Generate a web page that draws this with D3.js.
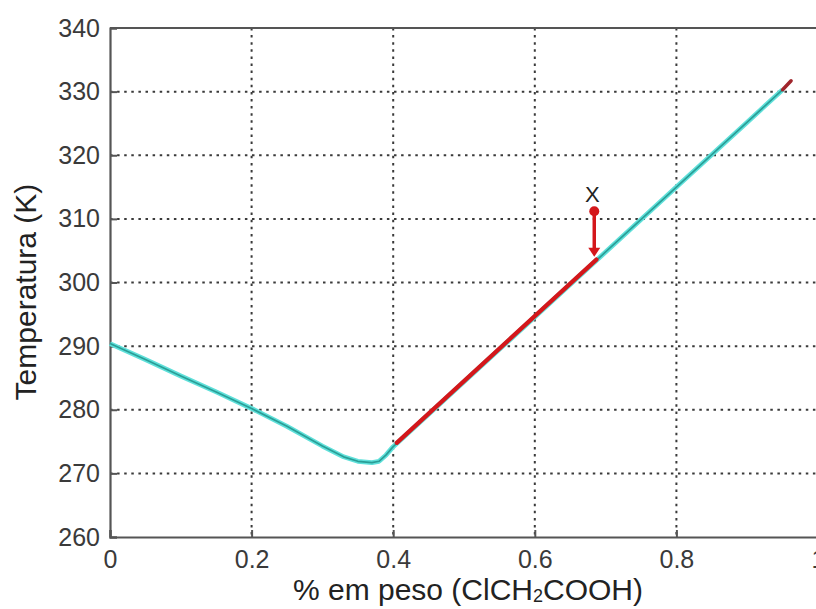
<!DOCTYPE html>
<html>
<head>
<meta charset="utf-8">
<script src="https://cdn.jsdelivr.net/npm/d3@7"></script>
<style>
  html, body { margin: 0; padding: 0; background: #fff; overflow: hidden; }
  svg { display: block; font-family: "Liberation Sans", Arial, sans-serif; }
</style>
</head>
<body>
<svg id="chart" width="816" height="609"></svg>
<script>
// Liquidus curve (cyan), weight fraction vs temperature
const liquidusX = [0, 0.05, 0.1, 0.15, 0.2, 0.25, 0.3, 0.33, 0.35, 0.37, 0.38, 0.39, 0.4, 0.5, 0.6, 0.7, 0.8, 0.9, 0.95];
const liquidusT = [290.4, 287.9, 285.3, 282.8, 280.2, 277.4, 274.3, 272.6, 271.9, 271.7, 271.9, 272.9, 274.2, 284.4, 294.6, 304.8, 315.0, 325.2, 330.3];

// Cooling path (red) along the liquidus
const pathX = [0.405, 0.687];
const pathT = [274.8, 303.6];

// Small end segment at the top of the curve
const tipX = [0.95, 0.962];
const tipT = [330.3, 331.7];

// Starting state X and where it meets the curve
const pointX = { x: 0.684, t: 311.2, label: "X" };
const arrowEnd = { x: 0.684, t: 304.2 };

const xTicks = [0, 0.2, 0.4, 0.6, 0.8, 1];
const yTicks = [260, 270, 280, 290, 300, 310, 320, 330, 340];

const svg = d3.select("#chart");
const x = d3.scaleLinear().domain([0, 1]).range([110, 818]);
const y = d3.scaleLinear().domain([260, 340]).range([537, 28]);

// Dotted grid
const grid = svg.append("g").attr("stroke", "#3a3a3a").attr("stroke-width", 2)
  .attr("stroke-dasharray", "2.5,4.6");
grid.selectAll("line.v").data(xTicks.filter(d => d > 0 && d < 1)).join("line")
  .attr("x1", d => x(d)).attr("x2", d => x(d)).attr("y1", y(340)).attr("y2", y(260));
grid.selectAll("line.h").data(yTicks.filter(d => d > 260 && d < 340)).join("line")
  .attr("x1", x(0)).attr("x2", x(1)).attr("y1", d => y(d)).attr("y2", d => y(d));

// Axes (boxed, inward ticks)
const axisColor = "#555";
const xAxis = svg.append("g").attr("transform", `translate(0,${y(260)})`)
  .call(d3.axisBottom(x).tickValues(xTicks).tickSize(-7).tickPadding(13).tickFormat(d3.format("~g")));
const yAxis = svg.append("g").attr("transform", `translate(${x(0)},0)`)
  .call(d3.axisLeft(y).tickValues(yTicks).tickSize(-7).tickPadding(10).tickFormat(d3.format("d")));
[xAxis, yAxis].forEach(a => {
  a.select(".domain").attr("stroke", axisColor).attr("stroke-width", 2.2);
  a.selectAll(".tick line").attr("stroke", axisColor).attr("stroke-width", 2);
  a.selectAll(".tick text").attr("fill", "#3a3a3a").attr("font-size", 25)
    .attr("font-family", "'Liberation Sans', Arial, sans-serif");
});
xAxis.selectAll(".tick text").attr("dy", "0.72em");
// Top border
svg.append("line").attr("x1", x(0)).attr("x2", x(1)).attr("y1", y(340)).attr("y2", y(340))
  .attr("stroke", axisColor).attr("stroke-width", 2.2);

// Curves
const line = d3.line().x(d => x(d[0])).y(d => y(d[1]));
const liq = liquidusX.map((v, i) => [v, liquidusT[i]]);
svg.append("path").datum(liq).attr("d", line).attr("fill", "none")
  .attr("stroke", "#5fe0da").attr("stroke-width", 4.8).attr("stroke-linejoin", "round");
svg.append("path").datum(liq).attr("d", line).attr("fill", "none")
  .attr("stroke", "#2a9e97").attr("stroke-width", 1.7).attr("stroke-linejoin", "round");

svg.append("path").datum(pathX.map((v, i) => [v, pathT[i]])).attr("d", line)
  .attr("fill", "none").attr("stroke", "#d4171b").attr("stroke-width", 4.2).attr("stroke-linecap", "round");
svg.append("path").datum(tipX.map((v, i) => [v, tipT[i]])).attr("d", line)
  .attr("fill", "none").attr("stroke", "#a0262c").attr("stroke-width", 3.5).attr("stroke-linecap", "round");

// Arrow from X down to the liquidus
svg.append("line")
  .attr("x1", x(pointX.x)).attr("y1", y(pointX.t))
  .attr("x2", x(arrowEnd.x)).attr("y2", y(arrowEnd.t) - 6)
  .attr("stroke", "#d4171b").attr("stroke-width", 3.5);
svg.append("path")
  .attr("d", `M${x(arrowEnd.x) - 6},${y(arrowEnd.t) - 8} L${x(arrowEnd.x) + 6},${y(arrowEnd.t) - 8} L${x(arrowEnd.x)},${y(arrowEnd.t) + 1} Z`)
  .attr("fill", "#d4171b");
svg.append("circle").attr("cx", x(pointX.x)).attr("cy", y(pointX.t)).attr("r", 5)
  .attr("fill", "#d4171b");
svg.append("text").attr("x", x(pointX.x) - 2).attr("y", y(pointX.t) - 9)
  .attr("text-anchor", "middle").attr("font-size", 22).attr("fill", "#222").text(pointX.label);

// Axis titles
const xt = svg.append("text").attr("x", 468).attr("y", 600).attr("text-anchor", "middle")
  .attr("font-size", 30).attr("fill", "#222");
xt.append("tspan").text("% em peso (ClCH");
xt.append("tspan").attr("font-size", 18).attr("dy", 2).text("2");
xt.append("tspan").attr("dy", -2).text("COOH)");

svg.append("text").attr("transform", "translate(36,292) rotate(-90)")
  .attr("text-anchor", "middle").attr("font-size", 30).attr("fill", "#222")
  .text("Temperatura (K)");
</script>
</body>
</html>
